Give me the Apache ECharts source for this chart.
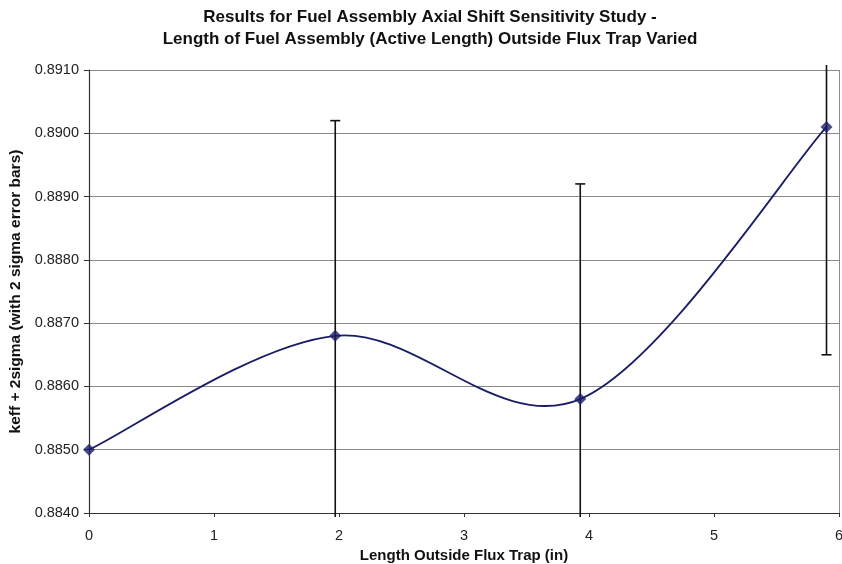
<!DOCTYPE html>
<html>
<head>
<meta charset="utf-8">
<script src="https://cdn.jsdelivr.net/npm/echarts@6/dist/echarts.min.js"></script>
<style>
html,body{margin:0;padding:0;background:#fff;}
#chart{width:842px;height:564px;}
</style>
</head>
<body>
<div id="chart"></div>
<script>
const titleLines = ["Results for Fuel Assembly Axial Shift Sensitivity Study -", "Length of Fuel Assembly (Active Length) Outside Flux Trap Varied"];
const xName = "Length Outside Flux Trap (in)";
const yName = "keff + 2sigma (with 2 sigma error bars)";
const lengthValues = [0, 1.97, 3.93, 5.90];
const keffValues = [0.8850, 0.8868, 0.8858, 0.8901];
const errorValues = [null, 0.0034, 0.0034, 0.0036];

const chart = echarts.init(document.getElementById('chart'));
const lineData = lengthValues.map((x, i) => [x, keffValues[i]]);
const errData = lengthValues.map((x, i) => errorValues[i] == null ? null : [x, keffValues[i] - errorValues[i], keffValues[i] + errorValues[i]]).filter(d => d);

const lineColor = '#1a1c66';
const font = 'Liberation Sans, Arial';
chart.setOption({
  animation: false,
  backgroundColor: '#fff',
  title: {
    text: titleLines.join('\n'),
    left: 425, textAlign: 'center', top: 1,
    textStyle: { fontFamily: font, fontSize: 17, fontWeight: 'bold', color: '#111', lineHeight: 22 }
  },
  grid: { left: 89, right: 3, top: 70, bottom: 51, containLabel: false, outerBoundsMode: 'none' },
  xAxis: {
    type: 'value', min: 0, max: 6, interval: 1,
    name: xName, nameLocation: 'middle', nameGap: 31,
    nameTextStyle: { fontFamily: font, fontSize: 15, fontWeight: 'bold', color: '#111' },
    axisLine: { show: true, onZero: false, lineStyle: { color: '#333', width: 1.2 } },
    axisTick: { show: true, length: 4, inside: false, lineStyle: { color: '#333' } },
    axisLabel: { fontFamily: font, fontSize: 14.5, color: '#222', margin: 15 },
    splitLine: { show: false }
  },
  yAxis: {
    type: 'value', min: 0.884, max: 0.891, interval: 0.001,
    name: yName, nameLocation: 'middle', nameGap: 63, nameRotate: 90,
    nameTextStyle: { fontFamily: font, fontSize: 15.5, fontWeight: 'bold', color: '#111' },
    axisLine: { show: true, lineStyle: { color: '#333', width: 1.2 } },
    axisTick: { show: true, length: 5, lineStyle: { color: '#333' } },
    axisLabel: { fontFamily: font, fontSize: 14.5, color: '#222', margin: 10, formatter: v => v.toFixed(4) },
    splitLine: { show: true, lineStyle: { color: '#8a8a8a', width: 1 } }
  },
  graphic: [{
    type: 'line', shape: { x1: 839.5, y1: 70, x2: 839.5, y2: 513 }, style: { stroke: '#8a8a8a', lineWidth: 1 }, z: 1
  }],
  series: [
    {
      type: 'custom',
      data: errData,
      clip: false,
      z: 3,
      renderItem: function (params, api) {
        const cs = params.coordSys;
        const x = api.coord([api.value(0), api.value(1)])[0];
        let yLow = api.coord([api.value(0), api.value(1)])[1];
        let yHigh = api.coord([api.value(0), api.value(2)])[1];
        const children = [];
        const topLim = cs.y - 5, botLim = cs.y + cs.height + 4;
        const lowCap = yLow <= botLim, highCap = yHigh >= topLim;
        yLow = Math.min(yLow, botLim);
        yHigh = Math.max(yHigh, topLim);
        const st = { stroke: '#111', lineWidth: 1.6 };
        children.push({ type: 'line', shape: { x1: x, y1: yHigh, x2: x, y2: yLow }, style: st });
        if (highCap) children.push({ type: 'line', shape: { x1: x - 5, y1: yHigh, x2: x + 5, y2: yHigh }, style: st });
        if (lowCap) children.push({ type: 'line', shape: { x1: x - 5, y1: yLow, x2: x + 5, y2: yLow }, style: st });
        return { type: 'group', children: children };
      }
    },
    {
      // Excel-style smoothed line through the data points (Bezier segments built from api.coord)
      type: 'custom',
      data: [lineData[0]],
      z: 4,
      renderItem: function (params, api) {
        const P = lineData.map(d => api.coord(d));
        const n = P.length;
        const t = 1 / 6;
        const children = [];
        for (let i = 0; i < n - 1; i++) {
          const p0 = P[Math.max(i - 1, 0)], p1 = P[i], p2 = P[i + 1], p3 = P[Math.min(i + 2, n - 1)];
          children.push({
            type: 'bezierCurve',
            shape: {
              x1: p1[0], y1: p1[1], x2: p2[0], y2: p2[1],
              cpx1: p1[0] + (p2[0] - p0[0]) * t, cpy1: p1[1] + (p2[1] - p0[1]) * t,
              cpx2: p2[0] - (p3[0] - p1[0]) * t, cpy2: p2[1] - (p3[1] - p1[1]) * t
            },
            style: { stroke: lineColor, lineWidth: 1.8, fill: null }
          });
        }
        return { type: 'group', children: children };
      }
    },
    {
      type: 'scatter',
      data: lineData,
      symbol: 'diamond',
      symbolSize: 12,
      itemStyle: { color: lineColor },
      z: 5
    }
  ]
});
</script>
</body>
</html>
